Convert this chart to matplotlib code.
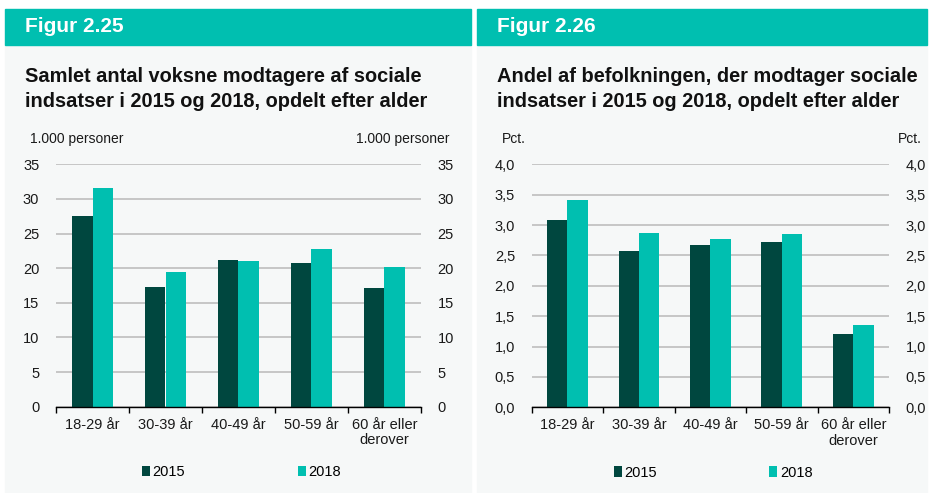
import matplotlib.pyplot as plt
from matplotlib.patches import Rectangle
from matplotlib.ticker import FuncFormatter

plt.rcParams['font.family'] = ['Liberation Sans', 'DejaVu Sans']

categories = ['18-29 år', '30-39 år', '40-49 år', '50-59 år', '60 år eller\nderover']
series = ['2015', '2018']

# Figur 2.25 - 1.000 personer
antal_2015 = [27.5, 17.3, 21.2, 20.8, 17.2]
antal_2018 = [31.6, 19.5, 21.1, 22.8, 20.2]

# Figur 2.26 - pct. af befolkningen
andel_2015 = [3.08, 2.58, 2.67, 2.72, 1.21]
andel_2018 = [3.42, 2.87, 2.77, 2.85, 1.36]

dark = '#00473f'
teal = '#00bfb0'
panel_bg = '#f6f8f8'
grid_col = '#c6c6c6'

W, H = 932, 493
fig = plt.figure(figsize=(W / 100, H / 100), dpi=100)
fig.patch.set_facecolor('white')


def px(x, y):
    return x / W, 1 - y / H


# panels and header bands (behind the axes)
for x0, x1 in [(5, 471), (477, 927)]:
    fig.patches.append(Rectangle(px(x0, 493), (x1 - x0) / W, (493 - 45) / H,
                                 transform=fig.transFigure, color=panel_bg, zorder=-10))
    fig.patches.append(Rectangle(px(x0, 45), (x1 - x0) / W, 36 / H,
                                 transform=fig.transFigure, color=teal, zorder=-10))


def draw_panel(rect, v15, v18, ymax, step, unit, fmt, fig_label, title, tx, unit_r):
    ax = fig.add_axes(rect)
    ax.set_facecolor('none')
    x = range(len(categories))
    w = 0.285
    ax.bar([i - w / 2 for i in x], v15, w, color=dark, linewidth=0,
           label=series[0], zorder=3)
    ax.bar([i + w / 2 for i in x], v18, w, color=teal, linewidth=0,
           label=series[1], zorder=3)
    ax.set_xlim(-0.5, len(categories) - 0.5)
    ax.set_ylim(0, ymax)
    ticks = [i * step for i in range(int(round(ymax / step)) + 1)]
    ax.set_yticks(ticks)
    ax.yaxis.set_major_formatter(FuncFormatter(fmt))
    ax.grid(axis='y', color=grid_col, linewidth=1.4, zorder=1)
    for s in ['left', 'right', 'top']:
        ax.spines[s].set_visible(False)
    ax.spines['bottom'].set_color('black')
    ax.spines['bottom'].set_linewidth(1.0)
    ax.spines['bottom'].set_zorder(4)
    ax.tick_params(axis='y', left=False, right=False, labelleft=True, labelright=True,
                   labelsize=10.5, pad=8.5, colors='#1a1a1a')
    ax.set_xticks(list(x))
    ax.set_xticklabels(categories, fontsize=10.5, color='#1a1a1a', linespacing=1.15)
    ax.tick_params(axis='x', which='major', length=0, pad=8)
    ax.set_xticks([i - 0.5 for i in range(len(categories) + 1)], minor=True)
    ax.tick_params(axis='x', which='minor', length=4, width=1.0, direction='out', color='black')

    ax.legend(loc='center', bbox_to_anchor=(0.508, -0.27), ncol=2, frameon=False,
              fontsize=10.5, handlelength=0.55, handleheight=0.75, handletextpad=0.2,
              columnspacing=7.7)

    fx, fy = px(tx, 27)
    fig.text(fx, fy, fig_label, color='white', fontsize=15, fontweight='bold', va='center')
    fx, fy = px(tx, 89)
    fig.text(fx, fy, title, color='#111111', fontsize=14.4, fontweight='bold', va='center',
             linespacing=1.35)
    ux, uy = px(tx + 5, 139)
    fig.text(ux, uy, unit, fontsize=10, color='#1a1a1a', va='center')
    ux, uy = px(unit_r, 139)
    fig.text(ux, uy, unit, fontsize=10, color='#1a1a1a', va='center', ha='right')
    return ax


def int_fmt(v, pos):
    return f'{v:.0f}'


def comma_fmt(v, pos):
    return f'{v:.1f}'.replace('.', ',')


l, b = px(56, 406.7)
draw_panel([l, b, (421 - 56) / W, (406.7 - 164.3) / H], antal_2015, antal_2018, 35, 5,
           '1.000 personer', int_fmt, 'Figur 2.25',
           'Samlet antal voksne modtagere af sociale\nindsatser i 2015 og 2018, opdelt efter alder',
           25, 449)

l, b = px(531.7, 407.3)
draw_panel([l, b, (889 - 531.7) / W, (407.3 - 164.3) / H], andel_2015, andel_2018, 4.0, 0.5,
           'Pct.', comma_fmt, 'Figur 2.26',
           'Andel af befolkningen, der modtager sociale\nindsatser i 2015 og 2018, opdelt efter alder',
           497, 922)

fig.savefig('out.png', dpi=100)
